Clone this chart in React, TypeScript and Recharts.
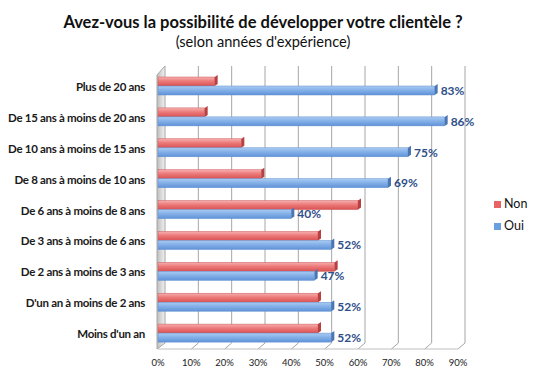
import React from 'react';
import * as R from 'recharts';
import { BarChart, Bar, XAxis, YAxis, LabelList, Customized } from 'recharts';

const categories = [
  'Plus de 20 ans',
  'De 15 ans à moins de 20 ans',
  'De 10 ans à moins de 15 ans',
  'De 8 ans à moins de 10 ans',
  'De 6 ans à moins de 8 ans',
  'De 3 ans à moins de 6 ans',
  'De 2 ans à moins de 3 ans',
  "D'un an à moins de 2 ans",
  "Moins d'un an",
];
const nonValues = [17, 14, 25, 31, 60, 48, 53, 48, 48];
const ouiValues = [83, 86, 75, 69, 40, 52, 47, 52, 52];
const xTicks = [0, 10, 20, 30, 40, 50, 60, 70, 80, 90];

const data = categories.map((name, i) => ({ name, Non: nonValues[i], Oui: ouiValues[i] }));

const FONT = 'Lato, "Open Sans", sans-serif';
const DEPTH = 7;
const XMAX = 90;

function Decor() {
  const usePA = (R as any).usePlotArea;
  const pa = usePA ? usePA() : null;
  if (!pa) return null;
  const { x, y, width, height } = pa;
  const bottom = y + height;
  const sx = (v: number) => x + (v / XMAX) * width;
  return (
    <g>
      <defs>
        <linearGradient id="wallGrad" x1="0" y1="0" x2="1" y2="0">
          <stop offset="0" stopColor="#bdbdbd" />
          <stop offset="1" stopColor="#f2f2f2" />
        </linearGradient>
      </defs>
      {xTicks.slice(1).map((t) => (
        <g key={t}>
          <line x1={sx(t) + DEPTH} y1={y - 5} x2={sx(t) + DEPTH} y2={bottom - 6} stroke="#a6a6a6" strokeWidth={1} />
          <line x1={sx(t)} y1={bottom} x2={sx(t) + DEPTH} y2={bottom - 6} stroke="#a6a6a6" strokeWidth={1} />
        </g>
      ))}
      <line x1={x} y1={bottom} x2={sx(XMAX)} y2={bottom} stroke="#bfbfbf" strokeWidth={1} />
      <polygon
        points={`${x - 1},${y + 4} ${x + DEPTH},${y - 5} ${x + DEPTH},${bottom - 6} ${x - 1},${bottom}`}
        fill="url(#wallGrad)"
        stroke="#a6a6a6"
        strokeWidth={1}
      />
    </g>
  );
}

const makeShape = (gradId: string, side: string, edge: string) => (props: any) => {
  const { x, y, width, height } = props;
  if (width == null || width <= 0) return <g />;
  const d = 3;
  return (
    <g>
      <rect x={x} y={y} width={width} height={height} fill={`url(#${gradId})`} stroke={edge} strokeWidth={0.5} />
      <polygon
        points={`${x + width},${y} ${x + width + d},${y - 2} ${x + width + d},${y + height - 2} ${x + width},${y + height}`}
        fill={side}
      />
    </g>
  );
};

const redShape = makeShape('redGrad', '#b84040', '#c95858');
const blueShape = makeShape('blueGrad', '#4a76b4', '#5f8fcf');

const YTick = (props: any) => {
  const { x, y, payload } = props;
  return (
    <text x={x - 5} y={y} dy={4.5} textAnchor="end" fontFamily={FONT} fontWeight={700} fontSize={11.5} letterSpacing={-0.3} fill="#1a1a1a">
      {payload.value}
    </text>
  );
};

const XTick = (props: any) => {
  const { x, y, payload } = props;
  return (
    <text x={x} y={y} dy={9} textAnchor="middle" fontFamily={FONT} fontSize={9.5} fill="#1a1a1a">
      {payload.value + '%'}
    </text>
  );
};

export default function App() {
  return (
    <div style={{ position: 'absolute', left: 0, top: 0, width: 534, height: 374, background: '#fff', fontFamily: FONT }}>
      <div style={{ position: 'absolute', left: 0, width: 526, top: 12, textAlign: 'center', fontWeight: 700, fontSize: 16.5, color: '#111' }}>
        Avez-vous la possibilité de développer votre clientèle ?
      </div>
      <div style={{ position: 'absolute', left: 0, width: 526, top: 33, textAlign: 'center', fontSize: 14.6, color: '#111' }}>
        (selon années d'expérience)
      </div>
      <div style={{ position: 'absolute', left: 0, top: 0 }}>
        <BarChart
          width={534}
          height={374}
          layout="vertical"
          data={data}
          margin={{ top: 71, right: 76, bottom: 5, left: 0 }}
          barGap={0}
          barSize={9}
        >
          <defs>
            <linearGradient id="redGrad" x1="0" y1="0" x2="0" y2="1">
              <stop offset="0" stopColor="#f7b0b0" />
              <stop offset="0.45" stopColor="#ec7a7a" />
              <stop offset="1" stopColor="#d95252" />
            </linearGradient>
            <linearGradient id="blueGrad" x1="0" y1="0" x2="0" y2="1">
              <stop offset="0" stopColor="#a9cbf3" />
              <stop offset="0.45" stopColor="#85b1e8" />
              <stop offset="1" stopColor="#5f92d8" />
            </linearGradient>
          </defs>
          <Customized component={Decor} />
          <XAxis
            type="number"
            domain={[0, XMAX]}
            ticks={xTicks}
            axisLine={false}
            tickLine={false}
            tick={<XTick />}
            height={20}
            interval={0}
          />
          <YAxis
            type="category"
            dataKey="name"
            width={158}
            axisLine={false}
            tickLine={false}
            tick={<YTick />}
            interval={0}
          />
          <Bar dataKey="Non" fill="#e86464" shape={redShape} isAnimationActive={false} />
          <Bar dataKey="Oui" fill="#6a9fe0" shape={blueShape} isAnimationActive={false}>
            <LabelList
              dataKey="Oui"
              position="right"
              offset={6}
              formatter={(v: any) => v + '%'}
              fill="#2f4f8a"
              fontFamily={FONT}
              fontWeight={700}
              fontSize={12}
            />
          </Bar>
        </BarChart>
      </div>
      <div style={{ position: 'absolute', left: 494, top: 193, fontSize: 12.5, color: '#111', lineHeight: '22px' }}>
        <div style={{ display: 'flex', alignItems: 'center' }}>
          <span style={{ width: 7, height: 7, background: '#e86464', display: 'inline-block', marginRight: 3 }} />
          Non
        </div>
        <div style={{ display: 'flex', alignItems: 'center' }}>
          <span style={{ width: 7, height: 7, background: '#6a9fe0', display: 'inline-block', marginRight: 3 }} />
          Oui
        </div>
      </div>
    </div>
  );
}
